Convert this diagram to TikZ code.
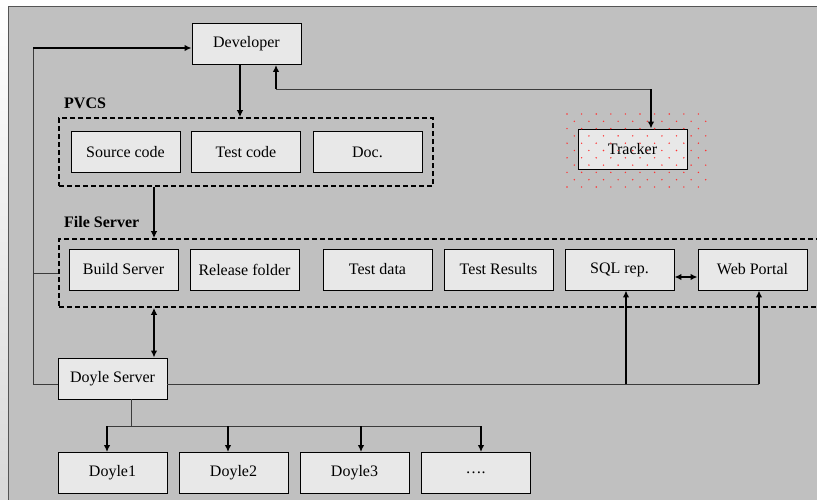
\documentclass[tikz,border=0pt]{standalone}
\usepackage{fontspec}
\setmainfont{Liberation Serif}
\usetikzlibrary{arrows.meta, calc}

\definecolor{panelgray}{RGB}{192,192,192}
\definecolor{boxgray}{RGB}{232,232,232}
\definecolor{edgegray}{RGB}{85,85,85}

\begin{document}
\begin{tikzpicture}[
    x=1pt, y=-1pt,
    >={Latex[length=7pt,width=6.5pt]},
    % Styles
    box/.style={ % Component box
        rectangle,
        draw,
        fill=boxgray,
        line width=0.9pt,
        minimum width=109pt,
        minimum height=41pt,
        inner sep=0pt,
        font=\fontsize{16}{18}\selectfont
    },
    group/.style={ % Dashed container
        rectangle,
        draw,
        dashed,
        dash pattern=on 5pt off 3pt,
        line width=1.6pt,
        inner sep=0pt
    },
    label/.style={
        anchor=base west,
        inner sep=0pt,
        font=\fontsize{16}{18}\selectfont\bfseries
    },
    arrow/.style={
        ->,
        line width=1.6pt
    },
    darrow/.style={
        <->,
        line width=1.6pt
    },
    wire/.style={ % Plain routing line
        line width=1pt,
        edgegray!70!black
    }
]
    % Page and panel
    \useasboundingbox (0,0) rectangle (817,499);
    \clip (0,0) rectangle (817,499);
    \fill[white] (0,0) rectangle (817,499);
    \shade[top color=white, bottom color=gray!30] (0,0) rectangle (8,499);
    \fill[panelgray] (8,6) rectangle (830,510);
    \draw[edgegray, line width=1.5pt] (8.5,510) -- (8.5,6.5) -- (830,6.5);

    % Top level
    \node[box] (dev) at (246.5,44) {Developer};
    \node[box, minimum height=40pt] (trk) at (632.5,149) {Tracker};

    % Red dotted halo round the tracker
    \foreach \row in {0,...,10}
        \foreach \col in {0,...,9}
            \fill[red!80] ({567+14.6*\col+7.3*mod(\row,2)}, {114+7.3*\row}) circle (0.8);

    % PVCS
    \node[label] (pvcslbl) at (64,108) {PVCS};
    \node[group, minimum width=374pt, minimum height=68pt] (pvcs) at (246,152) {};
    \node[box] (src) at (125.5,152) {Source code};
    \node[box] (tst) at (246,152) {Test code};
    \node[box] (doc) at (367.5,152) {Doc.};

    % File server
    \node[label] (fslbl) at (64,227) {File Server};
    \node[group, minimum width=771pt, minimum height=68pt] (fs) at (444.5,273) {};
    \node[box] (bld) at (123.5,269.5) {Build Server};
    \node[box] (rel) at (244.5,269.5) {Release folder};
    \node[box] (tdat) at (377.5,269.5) {Test data};
    \node[box] (tres) at (498.5,269.5) {Test Results};
    \node[box] (sql) at (619.5,269.5) {SQL rep.};
    \node[box] (web) at (752.5,269.5) {Web Portal};

    % Doyle servers
    \node[box] (srv) at (112.5,378.5) {Doyle Server};
    \node[box] (d1) at (112.5,473) {Doyle1};
    \node[box] (d2) at (233.5,473) {Doyle2};
    \node[box] (d3) at (354.5,473) {Doyle3};
    \node[box] (d4) at (475.5,473) {\dots.};

    % Routing points
    \coordinate (rail) at (33,48);
    \coordinate (tap) at (154,0);
    \coordinate (bus) at (759,384);
    \coordinate (fan) at (0,426);
    \coordinate (trkbend) at (651,89);

    % Developer links
    \draw[arrow] ([xshift=-6.5]dev.south) -- ([xshift=-6.5]dev.south |- pvcs.north);
    \draw[wire] ([xshift=29.5]dev.south |- trkbend) -- (trkbend);
    \draw[arrow] ([xshift=29.5]dev.south |- trkbend) -- ([xshift=29.5]dev.south);
    \draw[arrow] (trkbend) -- (trkbend |- trk.north);

    % Return rail on the left
    \draw[wire] (srv.west |- bus) -- (rail |- bus) -- (rail);
    \draw[arrow] (rail) -- (dev.west |- rail);
    \draw[wire] (rail |- fs.west) -- (fs.west);

    % PVCS to file server, file server to Doyle server
    \draw[arrow] (tap |- pvcs.south) -- (tap |- fs.north);
    \draw[darrow] (tap |- fs.south) -- (tap |- srv.north);
    \draw[darrow] ([yshift=-7.5]sql.east) -- ([yshift=-7.5]web.west);

    % Doyle server bus
    \draw[wire] (srv.east |- bus) -- (bus);
    \draw[arrow] ([xshift=6.5]sql.south |- bus) -- ([xshift=6.5]sql.south);
    \draw[arrow] (bus) -- ([xshift=6.5]web.south);

    % Fan out to the Doyle nodes
    \draw[wire] ([xshift=18.5]srv.south) -- ([xshift=18.5]srv.south |- fan);
    \draw[wire] ([xshift=-5.5]d1.north |- fan) -- ([xshift=5.5]d4.north |- fan);
    \foreach \d/\s in {d1/-5.5, d2/-5.5, d3/6.5, d4/5.5}
        \draw[arrow] ([xshift=\s]\d.north |- fan) -- ([xshift=\s]\d.north);
\end{tikzpicture}
\end{document}
